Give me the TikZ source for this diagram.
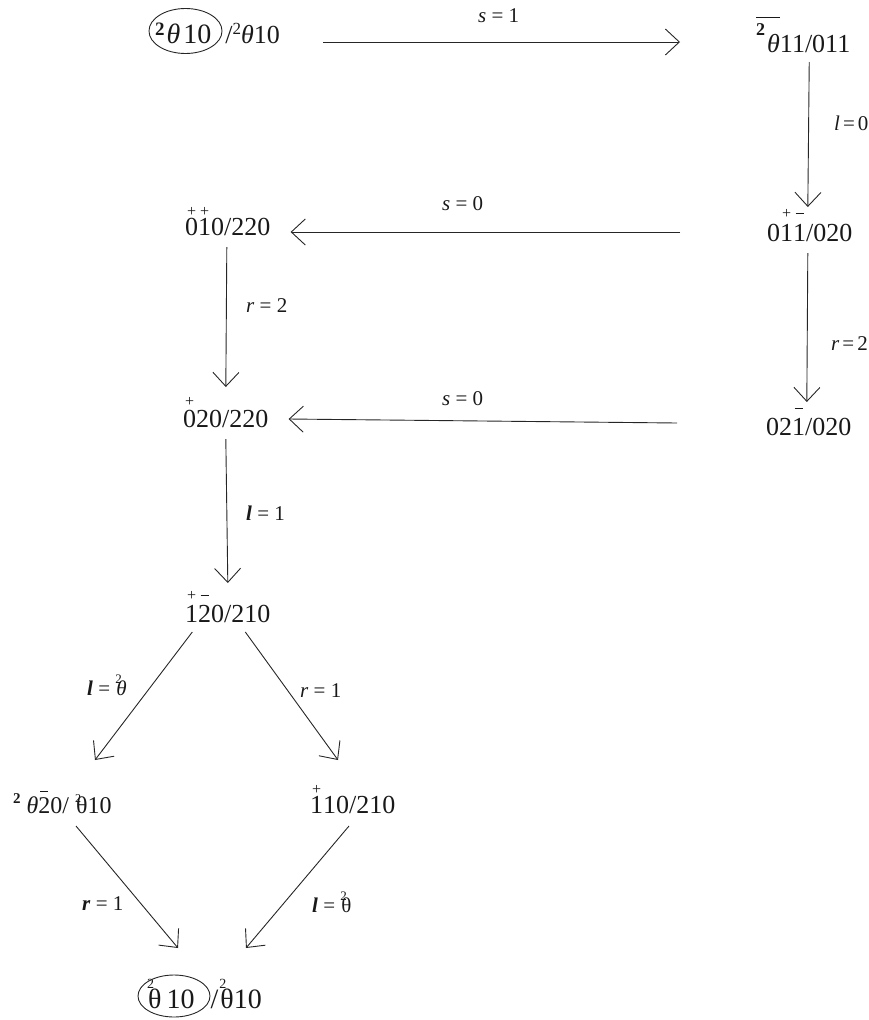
\documentclass[tikz,border=0pt]{standalone}
\usepackage{fontspec}
\setmainfont{Liberation Serif}
\usetikzlibrary{arrows.meta,calc}
\newcommand\accmark[3]{\leavevmode\setbox0=\hbox{#3}\rlap{\hbox to \wd0{\hss\raisebox{#2}{#1}\hss}}\box0\relax}
\newcommand\plusac[2][20pt]{\accmark{\fontsize{16}{16}\selectfont +}{#1}{#2}}
\newcommand\barac[2][26pt]{\accmark{\rule{8pt}{1.1pt}}{#1}{#2}}
\newcommand\ovlt[1]{\leavevmode\setbox0=\hbox{#1}\rlap{\raisebox{34pt}{\rule{\wd0}{1.1pt}}}\box0\relax}
\newcommand\twotop[3][11pt]{\rlap{\raisebox{#1}{\fontsize{#2}{#2}\selectfont 2}}\kern1pt #3}
\begin{document}
\begin{tikzpicture}[x=1pt,y=-1pt,
  txt/.style={inner sep=0pt,anchor=base west,font=\fontsize{26}{26}\selectfont,text=black!90},
  lab/.style={inner sep=0pt,anchor=base west,font=\fontsize{21}{21}\selectfont,text=black!90},
  ring/.style={draw=black!85,line width=0.9pt},
  arr/.style={draw=black!85,line width=0.9pt,-{Straight Barb[length=14pt,width=26pt]}}]
\useasboundingbox (0,0) rectangle (868,1020);
% states
\node[txt] (A) at (155,43) {{\fontsize{28}{28}\selectfont\raisebox{8pt}{\fontsize{19}{19}\selectfont\bfseries 2}\kern2pt\textit{θ}\kern3pt 10}\kern14pt/\raisebox{9pt}{\fontsize{17}{17}\selectfont 2}\textit{θ}10};
\draw[ring] (185.5,31) ellipse [x radius=36.5, y radius=22.5];
\node[txt] (B) at (756,52) {\ovlt{\raisebox{17pt}{\fontsize{18}{18}\selectfont\bfseries 2}\kern2pt\textit{θ}}11/011};
\node[txt] (C) at (185,235) {\plusac[18.5pt]{0}\plusac[18.5pt]{1}0/220};
\node[txt] (D) at (767,241) {0\plusac[23pt]{1}\barac[27pt]{1}/020};
\node[txt] (E) at (183,427) {\plusac[21pt]{0}20/220};
\node[txt] (F) at (766,435) {02\barac{1}/020};
\node[txt] (G) at (185,622) {\plusac[22pt]{1}\barac{2}0/210};
\node[txt,font=\fontsize{24}{24}\selectfont] (H) at (13,813) {\raisebox{10pt}{\fontsize{15}{15}\selectfont\bfseries 2}\kern6pt\textit{θ}\barac[21pt]{2}0/ \twotop{12}{θ}10};
\node[txt] (I) at (310,813) {\plusac[18.5pt]{1}10/210};
\node[txt,font=\fontsize{28}{28}\selectfont] (J) at (147,1008) {\twotop[20pt]{14}{θ}\kern5pt 10\kern16pt/\kern1pt\twotop[20pt]{14}{θ}10};
\draw[ring] (174,996) ellipse [x radius=36, y radius=21];
% labels
\node[lab] (L1) at (478,22) {\textit{s} = 1};
\node[lab] (L2) at (834,130) {\textit{l}\kern3pt=\kern3pt0};
\node[lab] (L3) at (442,210) {\textit{s} = 0};
\node[lab] (L4) at (246,312) {\textit{r} = 2};
\node[lab] (L5) at (831,350) {\textit{r}\kern3pt=\kern3pt2};
\node[lab] (L6) at (442,405) {\textit{s} = 0};
\node[lab] (L7) at (246,520) {\textbf{\textit{l}} = 1};
\node[lab] (L8) at (87,695) {\textbf{\textit{l}} = \twotop[12pt]{13}{\textit{θ}}};
\node[lab] (L9) at (300,697) {\textit{r} = 1};
\node[lab] (L10) at (82,910) {\textbf{\textit{r}} = 1};
\node[lab] (L11) at (312,912) {\textbf{\textit{l}} = \twotop[12pt]{13}{θ}};
% connectors
\draw[arr] ($(A.base east)+(43,-1)$) -- ($(B.base west)+(-76,-10)$);
\draw[arr] ($(B.base)+(6,10)$) -- ($(D.base)+(-2,-34)$);
\draw[arr] ($(D.base west)+(-87,-9)$) -- ($(C.base east)+(20,-3)$);
\draw[arr] ($(C.base)+(-1,12)$) -- ($(E.base)+(0,-40)$);
\draw[arr] ($(D.base)+(-2,12)$) -- ($(F.base)+(-2,-33)$);
\draw[arr] ($(F.base west)+(-89,-12)$) -- ($(E.base east)+(20,-8)$);
\draw[arr] ($(E.base)+(0,12)$) -- ($(G.base)+(0,-39)$);
\draw[arr] ($(G.base)+(-35.5,10)$) -- ($(H.base west)+(82,-53)$);
\draw[arr] ($(G.base)+(17.5,10)$) -- ($(I.base west)+(28,-53)$);
\draw[arr] ($(H.base west)+(63,13)$) -- ($(J.base west)+(31,-60)$);
\draw[arr] ($(I.base west)+(39,13)$) -- ($(J.base west)+(99,-60)$);
\end{tikzpicture}
\end{document}
